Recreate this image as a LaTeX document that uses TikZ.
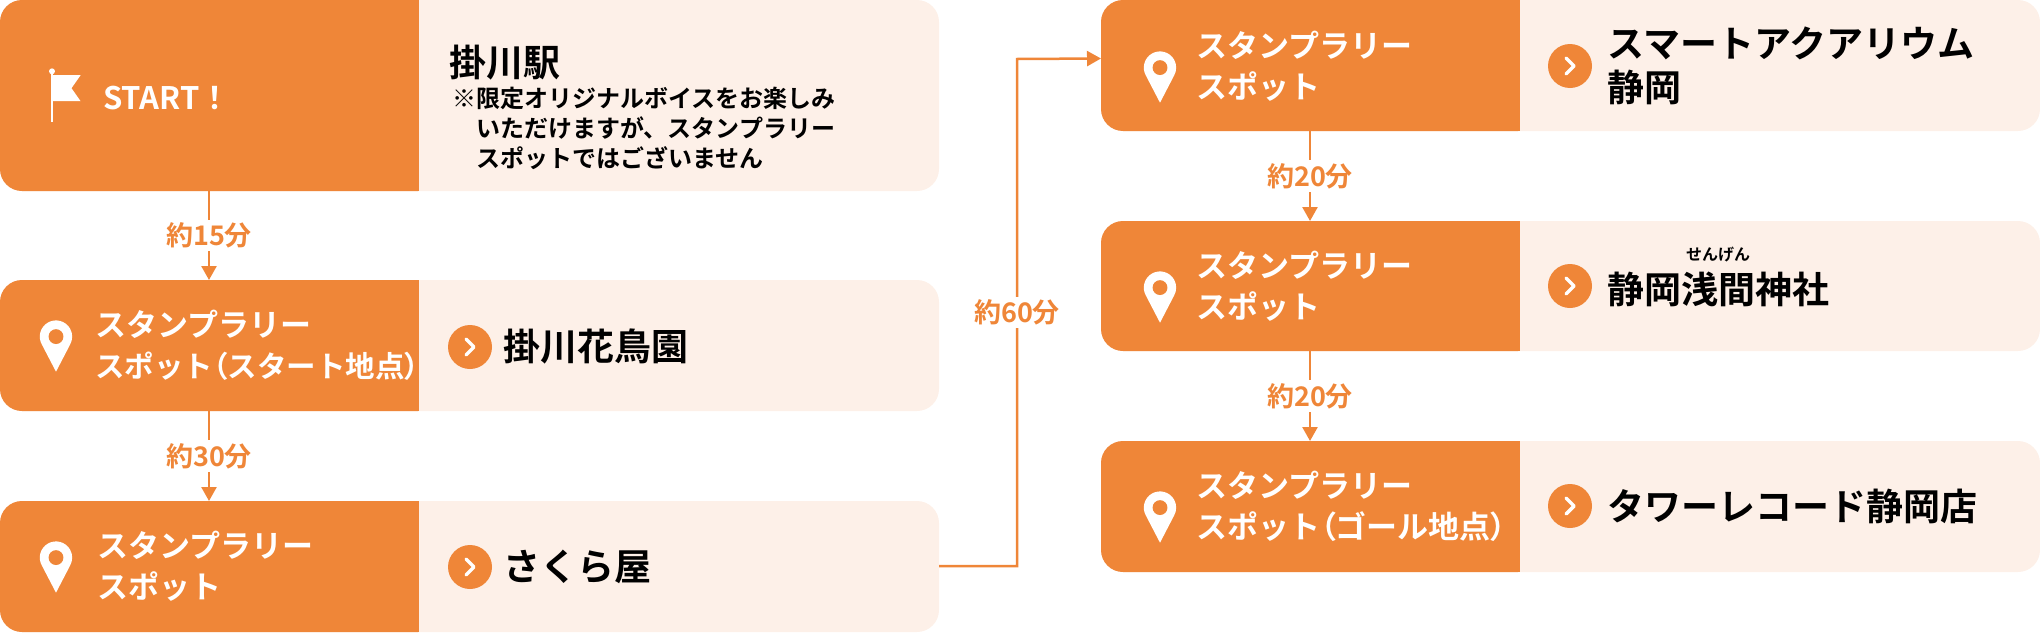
\documentclass[tikz,border=0pt]{standalone}
\usepackage{fontspec}
\setmainfont{Noto Sans CJK JP}[BoldFont={* Bold}]
\newfontfamily\jpb{Noto Sans CJK JP Bold}
\newfontfamily\jpbp{Noto Sans CJK JP Bold}[RawFeature=+palt]
\newcommand{\lp}{{\jpbp（}}
\newcommand{\rp}{{\jpbp）}}
\definecolor{org}{HTML}{EF8638}
\definecolor{lite}{HTML}{FDF0E8}
\usetikzlibrary{arrows.meta}
\tikzset{
  orgbox/.style={fill=org,rounded corners=22pt},
  litebox/.style={fill=lite,rounded corners=22pt},
  wt/.style={text=white,font=\jpb\fontsize{31}{41}\selectfont,anchor=west,align=left,inner sep=0},
  bk/.style={text=black,font=\jpb\fontsize{37}{44}\selectfont,anchor=west,align=left,inner sep=0},
  dur/.style={text=org,font=\jpb\fontsize{27}{30}\selectfont,fill=white,inner sep=3pt},
  conn/.style={draw=org,line width=2.5pt,-{Triangle[length=14pt,width=15pt]}},
}
\newcommand{\mypin}[1]{\begin{scope}[shift={#1},yscale=-1,scale=1.35]
 \fill[white] (0,-22) -- (-10.4,-2) arc[start angle=210,end angle=-30,radius=12] -- cycle;
 \fill[org] (0,4) circle (5.5);\end{scope}}
\newcommand{\mychev}[1]{\fill[org] #1 circle (22);
 \draw[white,line width=3.5pt,line cap=round,line join=round] #1 ++(-4,-8) -- ++(8,8) -- ++(-8,8);}
\begin{document}
\begin{tikzpicture}[x=1pt,y=-1pt]
\useasboundingbox (0,0) rectangle (2040,632);
\foreach \a/\b/\n in {0/191/L1,280/411/L2,501/632/L3}{
  \fill[litebox] (0,\a) rectangle (939,\b);
  \fill[orgbox] (0,\a) rectangle (440,\b);
  \fill[lite] (419,\a) rectangle (460,\b);
  \coordinate (\n t) at (209,\a); \coordinate (\n b) at (209,\b);
}
\foreach \a/\b/\n in {0/131/R1,221/351/R2,441/572/R3}{
  \fill[litebox] (1101,\a) rectangle (2040,\b);
  \fill[orgbox] (1101,\a) rectangle (1540,\b);
  \fill[lite] (1520,\a) rectangle (1560,\b);
  \coordinate (\n t) at (1310,\a); \coordinate (\n b) at (1310,\b);
  \coordinate (\n w) at (1101,{(\a+\b)/2-7});
}
\coordinate (L3e) at (939,566);
\begin{scope}[shift={(52,96)},yscale=-1,scale=1.3]
 \draw[white,line width=2.2pt] (0,-20) -- (0,18);
 \fill[white] (0,19) circle (2.3);
 \fill[white] (0,16) -- (22,16) -- (15,6) -- (22,-4) -- (0,-4) -- cycle;
\end{scope}
\node[wt,font=\jpb\fontsize{31}{32}\selectfont] (start) at (103,98) {START！};
\node[bk,anchor=west] (kakeg) at (449,63) {掛川駅};
\node[anchor=north west,inner sep=0,align=left,font=\jpb\fontsize{24}{30}\selectfont] (note) at (452,87)
 {※限定オリジナルボイスをお楽しみ\\\hspace{24pt}いただけますが、スタンプラリー\\\hspace{24pt}スポットではございません};
\mypin{(56,342)} \mypin{(56,563)}
\mypin{(1160,73)} \mypin{(1160,293)} \mypin{(1160,513)}
\node[wt] (s2) at (95,345) {スタンプラリー\\{\fontsize{29.5}{41}\selectfont スポット\lp スタート地点\rp}};
\node[wt] (s3) at (97,566) {スタンプラリー\\スポット};
\node[wt] (r1) at (1196,66) {スタンプラリー\\スポット};
\node[wt] (r2) at (1196,286) {スタンプラリー\\スポット};
\node[wt] (r3) at (1196,506) {スタンプラリー\\スポット\lp ゴール地点\rp};
\mychev{(470,347)} \mychev{(470,567)}
\mychev{(1570,66)} \mychev{(1570,286)} \mychev{(1570,506)}
\node[bk] (n2) at (503,347) {掛川花鳥園};
\node[bk] (n3) at (503,567) {さくら屋};
\node[bk] (m1) at (1607,66) {スマートアクアリウム\\静岡};
\node[bk] (m2) at (1607,289) {静岡浅間神社};
\node[text=black,font=\jpb\fontsize{16}{18}\selectfont,inner sep=0] (ruby) at (1718,255) {せんげん};
\node[bk] (m3) at (1607,506) {タワーレコード静岡店};
\draw[conn] (L1b) -- node[dur,pos=0.5] {約15分} (L2t);
\draw[conn] (L2b) -- node[dur,pos=0.5] {約30分} (L3t);
\draw[conn] (R1b) -- node[dur,pos=0.5] {約20分} (R2t);
\draw[conn] (R2b) -- node[dur,pos=0.5] {約20分} (R3t);
\draw[conn] (L3e) -- (1017,566) -- node[dur,pos=0.5] {約60分} (1017,59) -- (R1w);
\end{tikzpicture}
\end{document}
